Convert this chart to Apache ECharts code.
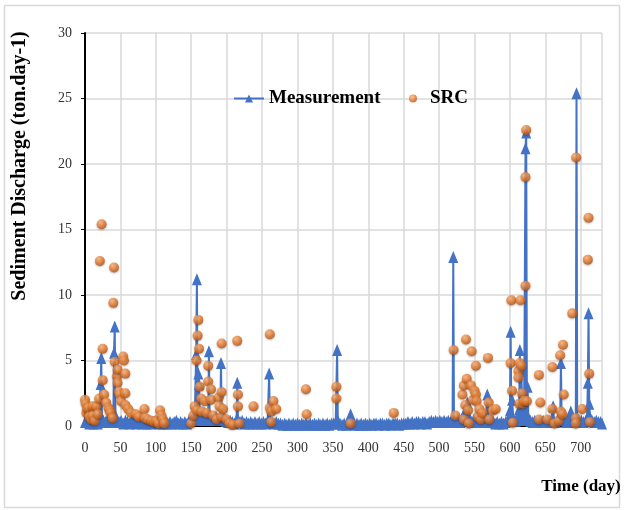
<!DOCTYPE html>
<html>
<head>
<meta charset="utf-8">
<script src="https://cdn.jsdelivr.net/npm/echarts@6/dist/echarts.min.js"></script>
<style>
  html, body { margin: 0; padding: 0; background: #fff; }
  #main { width: 625px; height: 510px; }
</style>
</head>
<body>
<div id="main"></div>
<script>
// 坐标轴刻度
const xTicks = { min: 0, max: 730, step: 50 };
const yTicks = { min: 0, max: 30, step: 5 };

// Measurement: [day, ton/day]
const measurement = [
  [0,0.3],[3,0.4],[6,0.2],[9,0.4],[12,0.2],[15,0.3],[18,0.2],[20,0.5],[22,3.2],[23,5.2],[24,0.6],
  [26,0.4],[29,0.3],[32,0.5],[35,0.3],[38,0.4],[40,0.6],[41,5.6],[42,7.6],[43,0.8],[45,0.5],
  [48,0.3],[51,0.4],[54,0.2],[57,0.4],[60,0.3],[63,0.2],[66,0.4],[69,0.3],[72,0.2],[75,0.3],
  [78,0.4],[81,0.2],[84,0.3],[87,0.2],[90,0.3],[93,0.2],[96,0.3],[99,0.4],[102,0.3],[105,0.2],
  [108,0.3],[111,0.2],[114,0.3],[117,0.2],[120,0.3],[123,0.2],[126,0.3],[129,0.4],[132,0.2],
  [135,0.3],[138,0.2],[141,0.3],[144,0.2],[147,0.4],[150,0.5],[153,0.6],[155,0.9],
  [157,5.5],[158,11.2],[159,1.2],[160,4.0],[161,3.2],[162,1.1],[165,0.7],[168,0.9],[171,0.6],
  [174,0.7],[175,5.7],[176,0.8],[179,0.6],[182,0.5],[185,0.7],[188,0.5],[191,0.6],[192,4.8],
  [193,0.7],[196,0.5],[199,0.4],[202,0.3],[205,0.4],[208,0.3],[211,0.2],[214,0.5],[215,3.3],
  [216,0.5],[219,0.3],[222,0.4],[225,0.2],[228,0.3],[231,0.2],[234,0.3],[237,0.2],[240,0.3],
  [243,0.2],[246,0.3],[249,0.2],[252,0.3],[255,0.2],[258,0.4],[260,4.0],[261,0.5],[264,0.3],
  [267,0.2],[270,0.3],[273,0.2],[276,0.2],[279,0.1],[282,0.2],[285,0.1],[288,0.2],[291,0.1],
  [294,0.2],[297,0.1],[300,0.2],[303,0.1],[306,0.2],[309,0.1],[312,0.2],[315,0.1],[318,0.2],
  [321,0.1],[324,0.2],[327,0.1],[330,0.2],[333,0.1],[336,0.2],[339,0.1],[342,0.2],[345,0.1],
  [348,0.2],[351,0.2],[354,0.3],[356,5.8],[357,0.4],[360,0.2],[363,0.1],[366,0.2],[369,0.1],
  [372,0.2],[375,0.9],[378,0.2],[381,0.1],[384,0.2],[387,0.1],[390,0.2],[393,0.1],[396,0.2],
  [399,0.1],[402,0.2],[405,0.1],[408,0.2],[411,0.2],[414,0.1],[417,0.2],[420,0.2],[423,0.1],
  [426,0.2],[429,0.2],[432,0.1],[435,0.2],[438,0.2],[441,0.2],[444,0.1],[447,0.2],[450,0.2],
  [453,0.2],[456,0.3],[459,0.2],[462,0.3],[465,0.2],[468,0.3],[471,0.3],[474,0.2],[477,0.3],
  [480,0.3],[483,0.2],[486,0.3],[489,0.4],[492,0.3],[495,0.4],[498,0.3],[501,0.4],[504,0.3],
  [507,0.4],[510,0.3],[513,0.4],[516,0.3],[519,0.4],
  [520,12.9],[521,0.5],[524,0.3],[527,0.4],[530,0.3],[533,0.6],[537,1.2],[540,1.8],[543,0.6],
  [546,0.3],[549,0.5],[552,0.3],[555,0.4],[558,0.3],[561,0.4],[564,0.3],[566,0.5],[568,2.4],
  [570,0.5],[573,0.3],[576,0.4],[579,0.2],[582,0.3],[585,0.2],[588,0.3],[591,0.2],[594,0.3],
  [597,0.5],[600,1.2],[601,7.2],[602,0.9],[603,2.0],[605,0.5],[608,0.4],[611,0.7],[613,1.3],
  [614,5.8],[615,0.9],[616,4.2],[618,0.7],[620,1.1],[622,21.2],[623,22.4],[624,0.9],[625,3.0],
  [626,0.6],[629,0.4],[632,0.3],[635,0.4],[638,0.3],[641,0.4],[644,0.3],[647,0.4],[650,0.3],
  [653,0.4],[656,0.3],[659,0.5],[661,1.5],[662,0.4],[665,0.3],[668,0.5],[671,0.9],[672,4.8],
  [673,0.7],[676,0.5],[679,0.3],[682,0.4],[685,0.6],[686,1.1],[688,0.4],[691,0.3],[693,0.5],
  [694,25.4],[695,0.6],[698,0.3],[701,0.4],[704,0.3],[707,0.4],[709,0.6],[710,3.3],
  [711,8.6],[712,1.7],[713,0.7],[716,0.4],[719,0.3],[722,0.4],[725,0.3],[728,0.3],[730,0.2]
];

// SRC: [day, ton/day]
const src = [
  [0,2.0],[1,1.7],[2,1.0],[3,1.3],[5,1.4],[6,0.7],[9,0.5],[11,1.5],[11,0.8],[14,0.4],[16,1.5],
  [18,0.9],[20,2.1],[21,12.6],[23.5,15.4],[25,5.9],[25,3.5],[27,2.4],[30,1.8],[33,1.4],[35,1.2],
  [36,1.0],[39,0.6],[40,9.4],[41,12.1],[42,4.9],[45,3.8],[46,4.3],[46,3.3],[48,2.6],[49,2.4],
  [51,1.9],[54,5.3],[55,5.0],[57,4.0],[57,2.5],[57,1.6],[61,1.3],[65,1.0],[72,0.9],[76,0.7],
  [84,1.3],[85,0.6],[89,0.5],[94,0.4],[98,0.3],[101,0.4],[104,0.2],[106,1.2],[108,0.8],[110,0.5],
  [112,0.2],
  [150,0.2],[153,0.8],[155,1.5],[157.5,5.0],[158,1.2],[159,6.9],[160,8.1],[161,5.9],[162,3.0],
  [164,2.1],[165,1.1],[169,1.9],[172,1.0],[174,4.6],[174,3.4],[178,2.8],[178,2.0],[181,0.8],
  [186,0.5],[189,2.2],[190,1.5],[193,6.3],[193,2.6],[193,0.7],[195,1.3],[200,0.5],[204,0.2],
  [209,0.1],[215,6.5],[216,2.4],[216,1.5],[218,0.2],[238,1.5],[261,7.0],[261,1.4],[263,1.1],
  [263,0.3],[266,1.9],[270,1.3],
  [312,2.8],[313,0.9],[355,3.0],[355,2.1],[375,0.2],[436,1.0],
  [520.5,5.8],[523,0.8],[533,2.4],[535,3.1],[535,0.5],[537,1.6],[538,6.6],[539,3.6],[541,1.2],
  [542,0.2],[545,3.1],[546,5.7],[548,2.0],[550,2.7],[552,4.6],[552,2.4],[553,1.9],[555,0.7],
  [557,1.3],[559,0.5],[561,1.0],[569,5.2],[570,1.8],[571,0.5],[576,1.2],[580,1.3],
  [601,4.8],[602,9.6],[603,2.7],[604,0.25],[612,4.2],[612,3.7],[613,1.7],[614,4.8],[615,9.6],
  [616,4.6],[617,2.5],[618,1.7],[620,1.9],[622,10.7],[622,19.0],[623,22.6],[624,1.9],
  [641,3.9],[641,0.5],[643,1.8],[653,0.5],[660,4.5],[660,1.3],[663,0.2],[669,0.4],[671,5.4],
  [672,1.1],[674,0.9],[675,6.2],[676,2.4],[688,8.6],[693,0.6],[693,0.2],[693.5,20.5],[702,1.3],
  [710,12.7],[711,15.9],[712,4.0],[713,0.3]
];

const serif = "'Liberation Serif', 'Times New Roman', serif";
const legendText = { fontFamily: serif, fontWeight: 'bold', fontSize: 19, color: '#000' };
const chart = echarts.init(document.getElementById('main'), null, { renderer: 'canvas' });

const option = {
  backgroundColor: '#fff',
  animation: false,
  grid: { left: 85, right: 23, top: 33, bottom: 84 },
  legend: [
    { left: 233, top: 89, itemWidth: 30, itemHeight: 10, padding: 0,
      textStyle: legendText, data: ['Measurement'] },
    { left: 409, top: 89, itemWidth: 24, itemHeight: 8, padding: 0,
      textStyle: legendText, data: ['SRC'] }
  ],
  xAxis: {
    type: 'value', min: xTicks.min, max: xTicks.max, interval: xTicks.step,
    axisLine: { show: true, lineStyle: { color: '#000', width: 2 } },
    axisTick: { show: false },
    axisLabel: { fontFamily: serif, fontSize: 14, color: '#333', margin: 15, showMaxLabel: false },
    splitLine: { show: true, lineStyle: { color: '#d9d9d9', width: 1.5 } }
  },
  yAxis: {
    type: 'value', min: yTicks.min, max: yTicks.max, interval: yTicks.step,
    axisLine: { show: true, lineStyle: { color: '#000', width: 2 } },
    axisTick: { show: true, length: 4, lineStyle: { color: '#000', width: 1 } },
    axisLabel: { fontFamily: serif, fontSize: 14, color: '#333', margin: 13 },
    splitLine: { show: true, lineStyle: { color: '#d9d9d9', width: 1.5 } }
  },
  graphic: [
    { type: 'rect', silent: true, z: -1,
      shape: { x: 4.5, y: 5.5, width: 615, height: 502 },
      style: { fill: null, stroke: '#d9d9d9', lineWidth: 1.5 } },
    { type: 'text', x: 20, y: 166, rotation: Math.PI / 2,
      style: { text: 'Sediment Discharge (ton.day-1)', font: "bold 20px " + serif,
               fill: '#000', align: 'center', verticalAlign: 'middle' } },
    { type: 'text', x: 581, y: 487,
      style: { text: 'Time (day)', font: "bold 17px " + serif,
               fill: '#000', align: 'center', verticalAlign: 'middle' } }
  ],
  series: [
    {
      name: 'Measurement',
      type: 'line',
      data: measurement,
      clip: false,
      showAllSymbol: true,
      symbol: 'triangle',
      symbolSize: [10, 12],
      color: '#4472C4',
      itemStyle: { color: '#4472C4' },
      lineStyle: { color: '#4472C4', width: 2 },
      areaStyle: { color: '#4472C4', opacity: 1 },
      z: 2
    },
    {
      name: 'SRC',
      type: 'scatter',
      data: src,
      symbol: 'circle',
      symbolSize: 10,
      color: '#ED7D31',
      itemStyle: {
        color: new echarts.graphic.RadialGradient(0.38, 0.32, 0.7, [
          { offset: 0, color: '#fbb883' },
          { offset: 0.55, color: '#e87a2c' },
          { offset: 1, color: '#b25416' }
        ]),
        shadowColor: 'rgba(0,0,0,0.35)', shadowBlur: 2, shadowOffsetY: 1
      },
      z: 3
    }
  ]
};

chart.setOption(option);
</script>
</body>
</html>
